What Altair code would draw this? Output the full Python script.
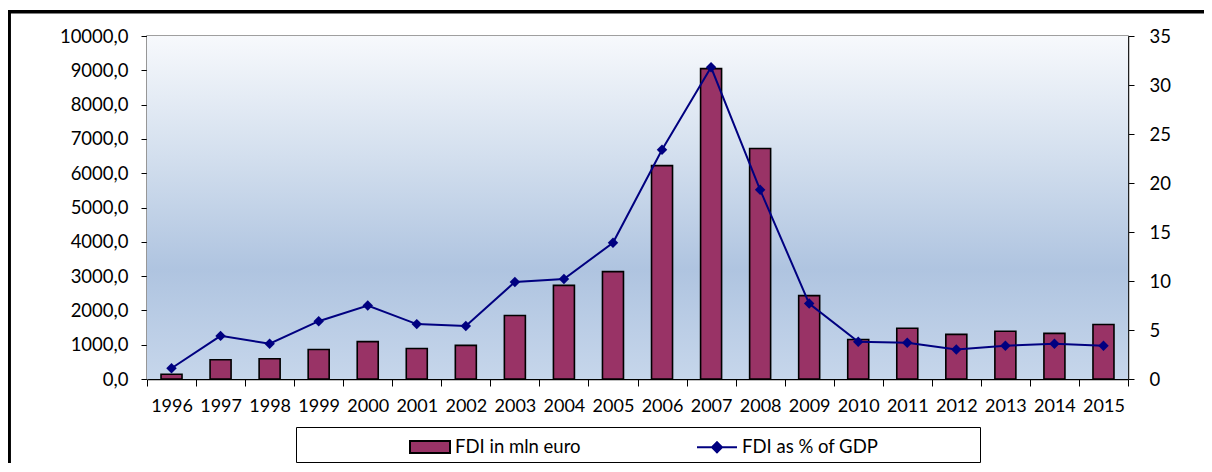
import altair as alt
import pandas as pd

# ---- data ----
years = ["1996", "1997", "1998", "1999", "2000", "2001", "2002", "2003", "2004", "2005",
         "2006", "2007", "2008", "2009", "2010", "2011", "2012", "2013", "2014", "2015"]
fdi_mln_euro = [140, 560, 590, 860, 1090, 890, 980, 1850, 2730, 3130,
                6220, 9050, 6720, 2430, 1150, 1480, 1300, 1390, 1330, 1590]
fdi_pct_gdp = [1.1, 4.4, 3.6, 5.9, 7.5, 5.6, 5.4, 9.9, 10.2, 13.9,
               23.4, 31.8, 19.3, 7.7, 3.8, 3.7, 3.0, 3.4, 3.6, 3.4]
series_names = ["FDI in mln euro", "FDI as % of GDP"]
left_ticks = [0, 1000, 2000, 3000, 4000, 5000, 6000, 7000, 8000, 9000, 10000]
right_ticks = [0, 5, 10, 15, 20, 25, 30, 35]

df = pd.DataFrame({"year": years, "fdi": fdi_mln_euro, "pct": fdi_pct_gdp})
legend_df = pd.DataFrame({"series": series_names})

W, H = 981, 343
FONT = "Lato"
BAR = "#993366"
NAVY = "#000080"
one = alt.Data(values=[{}])

x_enc = alt.X(
    "year:O",
    scale=alt.Scale(paddingInner=0, paddingOuter=0),
    axis=alt.Axis(title=None, tickBand="extent", tickSize=7, tickColor="black",
                  domainColor="black", domainWidth=1.5, labelPadding=11, labelAngle=0,
                  labelFontSize=18),
)

# plot-area background gradient
bg = alt.Chart(one).mark_rect(
    color=alt.LinearGradient(
        gradient="linear", x1=0, x2=0, y1=0, y2=1,
        stops=[
            alt.GradientStop(color="#F7F9FC", offset=0),
            alt.GradientStop(color="#D3DFEE", offset=0.35),
            alt.GradientStop(color="#AFC4E0", offset=0.68),
            alt.GradientStop(color="#C6D6EB", offset=1),
        ],
    )
).encode(x=alt.value(0), x2=alt.value(W), y=alt.value(0), y2=alt.value(H))

bars = alt.Chart(df).mark_bar(width=21, fill=BAR, stroke="black", strokeWidth=1.6).encode(
    x=x_enc,
    y=alt.Y(
        "fdi:Q",
        scale=alt.Scale(domain=[0, 10000], nice=False),
        axis=alt.Axis(orient="left", title=None, values=left_ticks,
                      labelExpr="replace(format(datum.value, '.1f'), '.', ',')",
                      tickSize=6, tickColor="black", domainColor="#808080",
                      domainWidth=1.5, labelPadding=13, labelFontSize=18.5),
    ),
)

y_right = alt.Y(
    "pct:Q",
    scale=alt.Scale(domain=[0, 35], nice=False),
    axis=alt.Axis(orient="right", title=None, values=right_ticks, tickSize=6,
                  tickColor="black", domainColor="#202020", domainWidth=1.5,
                  labelPadding=15, labelFontSize=18.5),
)
line = alt.Chart(df).mark_line(color=NAVY, strokeWidth=2).encode(x="year:O", y=y_right)
pts = alt.Chart(df).mark_point(shape="diamond", filled=True, size=110, color=NAVY,
                               opacity=1).encode(x="year:O", y=y_right)
right = alt.layer(line, pts)

# legend (entries built by Vega-Lite from the series names)
rect_path = "M-1,-0.3H1V0.3H-1Z"
line_diamond_path = "M-1,0H1M0,-0.25L0.25,0L0,0.25L-0.25,0Z"
leg = alt.Legend(title=None, orient="none", legendX=262, legendY=390, direction="horizontal",
                 symbolSize=1600, symbolStrokeWidth=2, symbolOpacity=1,
                 labelFont=FONT, labelFontSize=18.5, labelColor="black",
                 columnPadding=112, padding=0, labelOffset=4)
legend_layer = alt.Chart(legend_df).mark_point(filled=True, opacity=1, strokeWidth=2).encode(
    x=alt.value(-3000), y=alt.value(-3000),
    fill=alt.Fill("series:N", scale=alt.Scale(domain=series_names, range=[BAR, NAVY]), legend=leg),
    stroke=alt.Stroke("series:N", scale=alt.Scale(domain=series_names, range=["black", NAVY]), legend=leg),
    shape=alt.Shape("series:N", scale=alt.Scale(domain=series_names, range=[rect_path, line_diamond_path]), legend=leg),
)

legend_box = alt.Chart(one).mark_rect(fill="white", stroke="black", strokeWidth=1).encode(
    x=alt.value(149.5), x2=alt.value(833.5), y=alt.value(391.5), y2=alt.value(426.5)
)

frame_left = alt.Chart(one).mark_rule(color="black", strokeWidth=3.5).encode(
    x=alt.value(-137.8), y=alt.value(-26), y2=alt.value(600)
)
frame_top = alt.Chart(one).mark_rule(color="black", strokeWidth=3.5).encode(
    x=alt.value(-139.5), x2=alt.value(1200), y=alt.value(-24.3)
)

chart = alt.layer(
    bg, bars, right, legend_box, legend_layer, frame_left, frame_top
).resolve_scale(y="independent").properties(
    width=W, height=H,
    autosize=alt.AutoSizeParams(type="none"),
    padding={"left": 139, "top": 28, "right": 76, "bottom": 84},
    background="white",
).configure_view(
    stroke="#808080", strokeWidth=1.5
).configure_axis(
    labelFont=FONT, labelFontSize=18, labelColor="black", tickWidth=1, grid=False
)

chart.save("out.html", embed_options={"renderer": "svg", "actions": False})
